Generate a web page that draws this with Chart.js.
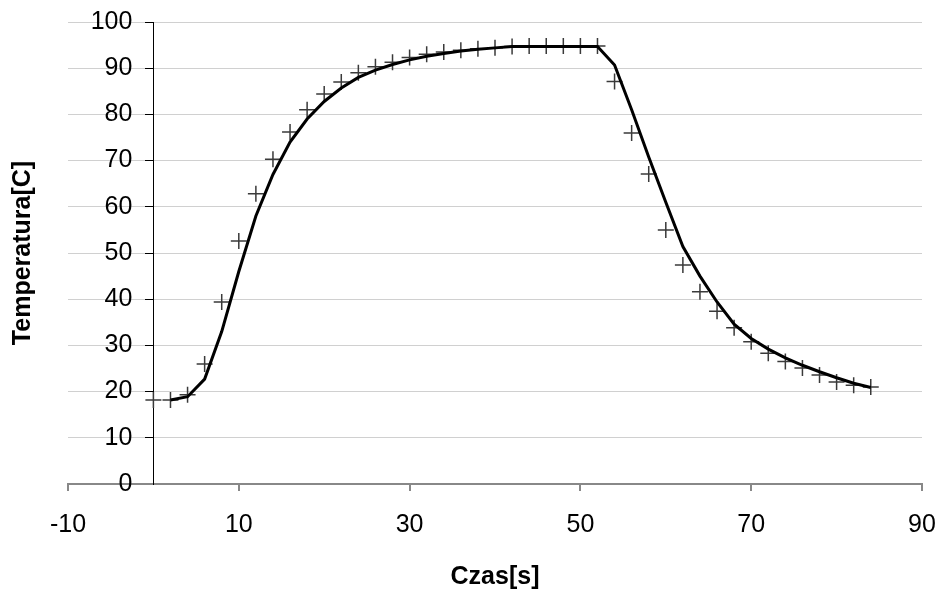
<!DOCTYPE html>
<html>
<head>
<meta charset="utf-8">
<script src="https://cdn.jsdelivr.net/npm/chart.js@4/dist/chart.umd.min.js"></script>
<style>
  html, body { margin: 0; padding: 0; background: #ffffff; }
  #wrap { width: 938px; height: 593px; }
</style>
</head>
<body>
<div id="wrap"><canvas id="c" width="938" height="593"></canvas></div>
<script>
// Measured points (crosses)
const measuredTime = [0, 2, 4, 6, 8, 10, 12, 14, 16, 18, 20, 22, 24, 26, 28, 30, 32, 34, 36, 38, 40, 42,
  44, 46, 48, 50, 52, 54, 56, 58, 60, 62, 64, 66, 68, 70, 72, 74, 76, 78, 80, 82, 84];
const measuredTemp = [18.2, 18.2, 19.3, 26.0, 39.4, 52.6, 62.8, 70.3, 76.2, 81.0, 84.4, 87.0, 89.0, 90.3,
  91.3, 92.3, 93.0, 93.5, 93.9, 94.2, 94.4, 94.7, 94.8, 94.8, 94.8, 94.8, 94.8, 87.1, 76.0, 67.1, 55.0,
  47.4, 41.6, 37.4, 33.8, 30.8, 28.3, 26.5, 25.1, 23.6, 22.1, 21.4, 21.0];

// Model curve (solid line)
const modelTime = [2, 4, 6, 8, 10, 12, 14, 16, 18, 20, 22, 24, 26, 28, 30, 32, 34, 36, 38, 40, 42,
  44, 46, 48, 50, 52, 54, 56, 58, 60, 62, 64, 66, 68, 70, 72, 74, 76, 78, 80, 82, 84];
const modelTemp = [18.2, 18.9, 22.7, 33.0, 46.0, 58.0, 67.0, 74.0, 79.0, 82.8, 85.7, 88.0, 89.6, 90.8,
  91.8, 92.6, 93.2, 93.7, 94.1, 94.4, 94.7, 94.7, 94.7, 94.7, 94.7, 94.7, 90.7, 81.0, 70.8, 61.0, 51.4,
  45.0, 39.4, 34.6, 31.5, 29.2, 27.3, 25.7, 24.3, 23.0, 21.8, 20.9];

const xTickValues = [-10, 10, 30, 50, 70, 90];
const yTickValues = [0, 10, 20, 30, 40, 50, 60, 70, 80, 90, 100];

const xTitle = 'Czas[s]';
const yTitle = 'Temperatura[C]';

const toPts = (xs, ys) => xs.map((x, i) => ({ x: x, y: ys[i] }));

const tickFont = { family: "'Liberation Sans', Arial, sans-serif", size: 25 };
const titleFont = { family: "'Liberation Sans', Arial, sans-serif", size: 25, weight: 'bold' };

// gap between the y axis line and its labels, and extra drop of the x labels
const Y_LABEL_GAP = 21;
const X_LABEL_DROP = 17;

const labelOffsets = {
  id: 'labelOffsets',
  beforeDraw(chart) {
    const yItems = chart.scales.y.getLabelItems();
    if (!yItems._shifted) {
      yItems.forEach(it => { it.options.translation[0] -= Y_LABEL_GAP; });
      yItems._shifted = true;
    }
    const xItems = chart.scales.x.getLabelItems();
    if (!xItems._shifted) {
      xItems.forEach(it => { it.options.translation[1] += X_LABEL_DROP; });
      xItems._shifted = true;
    }
  }
};

new Chart(document.getElementById('c'), {
  type: 'scatter',
  data: {
    datasets: [
      {
        type: 'line',
        label: 'model',
        data: toPts(modelTime, modelTemp),
        borderColor: '#000000',
        borderWidth: 3,
        pointRadius: 0,
        tension: 0,
        fill: false,
        order: 0
      },
      {
        type: 'scatter',
        label: 'pomiar',
        data: toPts(measuredTime, measuredTemp),
        pointStyle: 'cross',
        pointRadius: 8,
        pointBorderWidth: 1.5,
        borderColor: '#3a3a3a',
        backgroundColor: '#3a3a3a',
        showLine: false,
        order: 1
      }
    ]
  },
  plugins: [labelOffsets],
  options: {
    responsive: false,
    animation: false,
    layout: { padding: { top: 22, right: 16, left: 0, bottom: 0 } },
    plugins: { legend: { display: false }, tooltip: { enabled: false } },
    scales: {
      x: {
        type: 'linear',
        position: 'bottom',
        min: -10,
        max: 90,
        afterBuildTicks: (scale) => { scale.ticks = xTickValues.map(v => ({ value: v })); },
        grid: { display: true, drawOnChartArea: false, drawTicks: true, tickLength: 7, color: '#888888', lineWidth: 2 },
        border: { display: true, color: '#888888', width: 2 },
        ticks: { color: '#000000', font: tickFont, padding: 2, maxRotation: 0 },
        title: { display: true, text: xTitle, color: '#000000', font: titleFont, padding: { top: 37, bottom: 1 } }
      },
      y: {
        type: 'linear',
        position: { x: 0 },
        min: 0,
        max: 100,
        afterBuildTicks: (scale) => { scale.ticks = yTickValues.map(v => ({ value: v })); },
        grid: { display: true, drawOnChartArea: true, drawTicks: true, tickLength: 8, color: '#d0d0d0', tickColor: '#000000', lineWidth: 1 },
        border: { display: true, color: '#000000', width: 1 },
        ticks: { color: '#000000', font: tickFont, padding: 0 }
      },
      yTitleAxis: {
        type: 'linear',
        position: 'left',
        display: true,
        grid: { display: false, drawTicks: false },
        border: { display: false },
        ticks: { display: false },
        title: { display: true, text: yTitle, color: '#000000', font: titleFont, padding: { top: 8, bottom: 30 } }
      }
    }
  }
});
</script>
</body>
</html>
